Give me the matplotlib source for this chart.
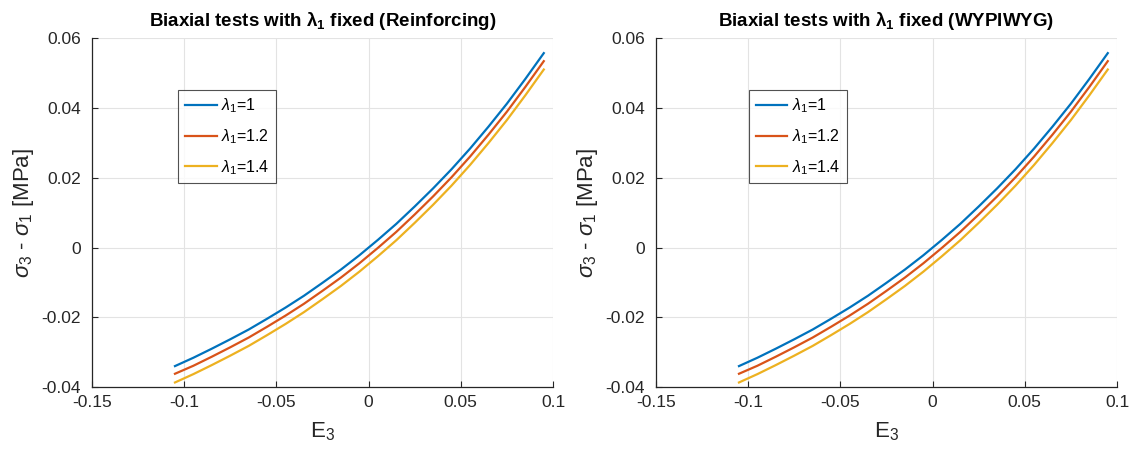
import matplotlib
matplotlib.use("Agg")
import matplotlib.pyplot as plt

plt.rcParams['font.family'] = ['Liberation Sans', 'DejaVu Sans']
plt.rcParams['mathtext.fontset'] = 'custom'
plt.rcParams['mathtext.rm'] = 'Liberation Sans'
plt.rcParams['mathtext.it'] = 'Liberation Sans:italic'
plt.rcParams['mathtext.bf'] = 'Liberation Sans:bold'

# ---- data ----
E3 = [-0.105, -0.095, -0.085, -0.075, -0.065, -0.055, -0.045, -0.035, -0.025,
      -0.015, -0.005, 0.005, 0.015, 0.025, 0.035, 0.045, 0.055, 0.065, 0.075,
      0.085, 0.095]
lam1_10 = [-0.0340, -0.0316, -0.0290, -0.0263, -0.0235, -0.0204, -0.0172, -0.0138,
           -0.0101, -0.0063, -0.0022, 0.0022, 0.0068, 0.0118, 0.0170, 0.0225,
           0.0284, 0.0347, 0.0413, 0.0484, 0.0558]
lam1_12 = [-0.0362, -0.0339, -0.0313, -0.0286, -0.0258, -0.0227, -0.0195, -0.0161,
           -0.0124, -0.0086, -0.0045, -0.0001, 0.0045, 0.0095, 0.0147, 0.0202,
           0.0261, 0.0324, 0.0390, 0.0461, 0.0535]
lam1_14 = [-0.0387, -0.0363, -0.0337, -0.0310, -0.0282, -0.0251, -0.0219, -0.0185,
           -0.0148, -0.0110, -0.0069, -0.0025, 0.0021, 0.0071, 0.0123, 0.0178,
           0.0237, 0.0300, 0.0366, 0.0437, 0.0511]
series = [lam1_10, lam1_12, lam1_14]
labels = [r'$\lambda_1$=1', r'$\lambda_1$=1.2', r'$\lambda_1$=1.4']
colors = ['#0072BD', '#D95319', '#EDB120']
titles = [r'Biaxial tests with $\mathbf{\lambda_1}$ fixed (Reinforcing)',
          r'Biaxial tests with $\mathbf{\lambda_1}$ fixed (WYPIWYG)']
xticks = [-0.15, -0.1, -0.05, 0, 0.05, 0.1]
xticklabels = ['-0.15', '-0.1', '-0.05', '0', '0.05', '0.1']
yticks = [-0.04, -0.02, 0, 0.02, 0.04, 0.06]
yticklabels = ['-0.04', '-0.02', '0', '0.02', '0.04', '0.06']

W, H = 1137, 455
fig = plt.figure(figsize=(W / 100, H / 100), dpi=100)
axes_px = [(92, 461), (656, 461)]
ax_bottom = (455 - 387) / H
ax_height = 348.5 / H
dark = '#262626'

for (x0, w), title in zip(axes_px, titles):
    ax = fig.add_axes([x0 / W, ax_bottom, w / W, ax_height])
    for ys, lab, c in zip(series, labels, colors):
        ax.plot(E3, ys, color=c, lw=1.6, label=lab)
    ax.set_xlim(-0.15, 0.1)
    ax.set_ylim(-0.04, 0.06)
    ax.set_xticks(xticks)
    ax.set_xticklabels(xticklabels)
    ax.set_yticks(yticks)
    ax.set_yticklabels(yticklabels)
    ax.grid(True, color='#e3e3e3', lw=0.8)
    ax.set_axisbelow(True)
    for s in ['top', 'right']:
        ax.spines[s].set_visible(False)
    for s in ['left', 'bottom']:
        ax.spines[s].set_color(dark)
        ax.spines[s].set_linewidth(0.9)
    ax.tick_params(direction='in', length=4, width=0.8, colors=dark,
                   labelsize=12.5)
    ax.tick_params(axis='x', pad=6)
    ax.tick_params(axis='y', pad=8)
    ax.set_xlabel(r'E$_3$', fontsize=16, color=dark, labelpad=7)
    ax.set_ylabel(r'$\sigma_3$ - $\sigma_1$ [MPa]', fontsize=16, color=dark, labelpad=4)
    ax.set_title(title, fontsize=13.5, fontweight='bold', color='black', pad=9)
    leg = ax.legend(loc='upper left', bbox_to_anchor=(0.187 if x0 < 600 else 0.202, 0.852),
                    fontsize=11.5, frameon=True, fancybox=False, edgecolor=dark,
                    handlelength=2.0, handletextpad=0.3, borderpad=0.4,
                    labelspacing=0.75, borderaxespad=0)
    leg.get_frame().set_linewidth(0.8)

fig.savefig('out.png', dpi=100)
